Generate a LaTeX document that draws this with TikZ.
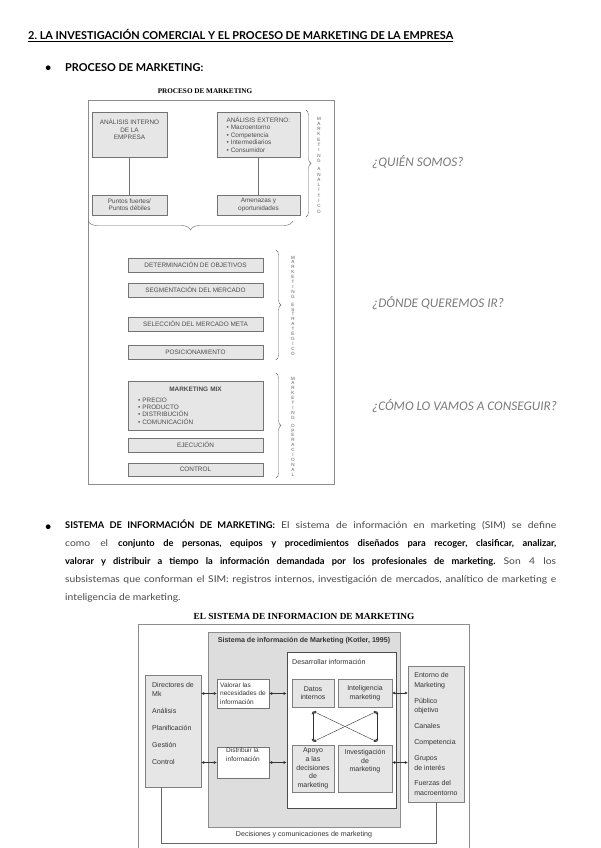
\documentclass[tikz,border=0pt]{standalone}
\usepackage{fontspec}
\setmainfont{Lato}
\newfontfamily\arialf{Liberation Sans}
\newfontfamily\timesf{Liberation Serif}
\newfontfamily\calibrif{Carlito}
\newfontfamily\parareg{Lato}[FakeStretch=1.11]
\newcommand{\parabold}[1]{\textcolor{black}{\normalfont\bfseries #1}}
\usetikzlibrary{arrows.meta,positioning,decorations.pathreplacing}
\definecolor{procgray}{HTML}{E6E6E6}
\definecolor{simgray}{HTML}{DDDDDD}
\definecolor{askgray}{HTML}{7A7A7A}
\frenchspacing

\begin{document}
\begin{tikzpicture}[x=1pt, y=-1pt,
  heading/.style={font=\bfseries\fontsize{10.9}{12}\selectfont, anchor=base west, inner sep=0pt},
  ask/.style={font=\calibrif\itshape\fontsize{13.2}{15}\selectfont, text=askgray, anchor=west, inner sep=0pt},
  procbox/.style={draw=black!55, fill=procgray, align=center, inner sep=1pt,
                  font=\arialf\fontsize{6.4}{7.4}\selectfont, text=black!70},
  stackbox/.style={procbox, minimum width=135pt, minimum height=14pt},
  vtext/.style={align=center, inner sep=0pt, font=\arialf\fontsize{4.6}{5.3}\selectfont, text=black!65},
  curly/.style={decorate, decoration={brace, amplitude=5pt}, draw=black!60, line width=0.4pt},
  simbox/.style={draw=black!50, fill=procgray, align=center, inner sep=1pt,
                 font=\arialf\fontsize{7}{8.6}\selectfont, text=black!80},
  sidebox/.style={simbox, align=left, minimum width=56pt, font=\arialf\fontsize{7}{9.8}\selectfont},
  whitebox/.style={simbox, fill=white, draw=black!55, align=left, minimum width=52pt,
                   font=\arialf\fontsize{6.5}{8.4}\selectfont},
  dbl/.style={{Latex[length=3pt,width=3pt]}-{Latex[length=3pt,width=3pt]}, black!80, line width=0.4pt}
]
\useasboundingbox (0,0) rectangle (600,848);

% --- heading
\node[heading] (h2) at (28,40) {\underline{2. LA INVESTIGACIÓN COMERCIAL Y EL PROCESO DE MARKETING DE LA EMPRESA}};
\node[heading] (b1) at (45,72) {\textbullet};
\node[heading] (proc) at (65,72) {PROCESO DE MARKETING:};

% --- proceso de marketing
\node[font=\timesf\bfseries\fontsize{7.2}{8}\selectfont, inner sep=0pt] (proctitle) at (205,91) {PROCESO DE MARKETING};
\draw[black!45, line width=0.5pt] (88,100) rectangle (334,484);

\node[procbox, minimum width=75pt, minimum height=45pt] (intern) at (129.5,134.5) {ANÁLISIS INTERNO\\DE LA\\EMPRESA\\[3pt]};
\node[procbox, minimum width=83pt, minimum height=45pt, align=left, text width=64pt] (extern) at (258.5,134.5)
  {ANÁLISIS EXTERNO:\\\textbullet\ Macroentorno\\\textbullet\ Competencia\\\textbullet\ Intermediarios\\\textbullet\ Consumidor};
\node[procbox, minimum width=75pt, minimum height=20pt] (fuertes) at (129.5,205) {Puntos fuertes/\\Puntos débiles};
\node[procbox, minimum width=83pt, minimum height=20pt] (amenazas) at (258.5,205) {Amenazas y\\oportunidades};
\draw[black!55] (intern) -- (fuertes);
\draw[black!55] (extern) -- (amenazas);

\draw[curly] (306,110) -- (306,217);
\node[vtext] (vanal) at (319,165) {M\\A\\R\\K\\E\\T\\I\\N\\G\\[3pt]A\\N\\A\\L\\Í\\T\\I\\C\\O};
\draw[curly, decoration={amplitude=9pt}] (293,221) -- (88,221);

\node[stackbox] (det) at (195.5,265) {DETERMINACIÓN DE OBJETIVOS};
\node[stackbox] (seg) at (195.5,290) {SEGMENTACIÓN DEL MERCADO};
\node[stackbox] (sel) at (195.5,324) {SELECCIÓN DEL MERCADO META};
\node[stackbox] (pos) at (195.5,352) {POSICIONAMIENTO};
\draw[curly] (276,250) -- (276,360);
\node[vtext, font=\arialf\fontsize{4.6}{4.9}\selectfont] (vestr) at (293,305.5)
  {M\\A\\R\\K\\E\\T\\I\\N\\G\\[3pt]E\\S\\T\\R\\A\\T\\É\\G\\I\\C\\O};

\node[stackbox, minimum height=49pt, align=left, text width=115pt] (mix) at (195.5,405.5)
  {\makebox[115pt]{\textbf{MARKETING MIX}}\\[3.5pt]\textbullet\ PRECIO\\\textbullet\ PRODUCTO\\\textbullet\ DISTRIBUCIÓN\\\textbullet\ COMUNICACIÓN\\[2pt]};
\node[stackbox] (ejec) at (195.5,445) {EJECUCIÓN};
\node[stackbox, minimum height=13pt] (ctrl) at (195.5,469.5) {CONTROL};
\draw[curly] (276,373) -- (276,478);
\node[vtext, font=\arialf\fontsize{4.6}{4.9}\selectfont] (voper) at (293,426.5)
  {M\\A\\R\\K\\E\\T\\I\\N\\G\\[3pt]O\\P\\E\\R\\A\\C\\I\\O\\N\\A\\L};

\node[ask] (quien) at (372,162) {¿QUIÉN SOMOS?};
\node[ask] (donde) at (372,303) {¿DÓNDE QUEREMOS IR?};
\node[ask] (como) at (372,406) {¿CÓMO LO VAMOS A CONSEGUIR?};

% --- sistema de informacion
\node[heading] (b2) at (45,530) {\textbullet};
\node[anchor=north west, inner sep=0pt, align=left, text=black!72,
      font=\parareg\fontsize{9.3}{18}\selectfont] (simtext) at (65,520)
  {\makebox[491pt][s]{\parabold{SISTEMA DE INFORMACIÓN DE MARKETING:} El sistema de información en marketing (SIM) se define}\\
   \makebox[491pt][s]{como el \parabold{conjunto de personas, equipos y procedimientos diseñados para recoger, clasificar, analizar,}}\\
   \makebox[491pt][s]{\parabold{valorar y distribuir a tiempo la información demandada por los profesionales de marketing.} Son 4 los}\\
   \makebox[491pt][s]{subsistemas que conforman el SIM: registros internos, investigación de mercados, analítico de marketing e}\\
   inteligencia de marketing.};

\node[font=\timesf\bfseries\fontsize{9.3}{10}\selectfont, inner sep=0pt] (simtitle) at (304,616) {EL SISTEMA DE INFORMACION DE MARKETING};
\draw[black!45, line width=0.5pt] (138,848) |- (469,624) -- (469,848);

\node[simbox, fill=simgray, draw=black!45, minimum width=192pt, minimum height=195pt] (sim) at (304,729.5) {};
\node[font=\arialf\bfseries\fontsize{7.1}{8}\selectfont, text=black!80, inner sep=0pt] (simhead) at (304,641)
  {Sistema de información de Marketing (Kotler, 1995)};
\node[simbox, fill=white, draw=black!70, line width=0.9pt, minimum width=109pt, minimum height=156pt] (dev) at (341.5,730) {};
\node[font=\arialf\fontsize{7.1}{8}\selectfont, text=black!80, anchor=west, inner sep=0pt] (devhead) at (292,662) {Desarrollar información};

\node[sidebox, minimum height=112pt] (dir) at (173,731)
  {Directores de\\Mk\\[7pt]Análisis\\[7pt]Planificación\\[7pt]Gestión\\[7pt]Control\\[6pt]};
\node[whitebox, minimum height=29pt] (valorar) at (243,693.5) {Valorar las\\necesidades de\\información};
\node[whitebox, minimum height=31pt] (distrib) at (243,762.5) {Distribuir la\\información\\[7pt]};
\node[simbox, minimum width=42pt, minimum height=28pt] (datos) at (313,693) {Datos\\internos};
\node[simbox, minimum width=54pt, minimum height=28pt] (intel) at (365,693) {Inteligencia\\marketing};
\node[simbox, minimum width=42pt, minimum height=47pt] (apoyo) at (313,768.5) {Apoyo\\a las\\decisiones\\de\\marketing};
\node[simbox, minimum width=54pt, minimum height=47pt] (invest) at (365,768.5) {Investigación\\de\\marketing\\[7pt]};
\node[sidebox, minimum height=136pt] (entorno) at (436,734)
  {Entorno de\\Marketing\\[6pt]Público\\objetivo\\[6pt]Canales\\[6pt]Competencia\\[6pt]Grupos\\de interés\\[6pt]Fuerzas del\\macroentorno};

\draw[dbl] (dir.east |- valorar.west) -- (valorar.west);
\draw[dbl] (valorar.east) -- (dev.west |- valorar.east);
\draw[dbl] (intel.east) -- (entorno.west |- intel.east);
\draw[dbl] (dir.east |- distrib.west) -- (distrib.west);
\draw[dbl] (distrib.east) -- (dev.west |- distrib.east);
\draw[dbl] (invest.east |- distrib.east) -- (entorno.west |- distrib.east);

\coordinate (xtl) at ([yshift=-4pt]datos.south);
\coordinate (xtr) at ([xshift=12pt, yshift=-4pt]intel.south);
\coordinate (xbl) at ([yshift=3pt]apoyo.north);
\coordinate (xbr) at ([xshift=12pt, yshift=3pt]invest.north);
\draw[dbl] (xtl) -- (xbl);
\draw[dbl] (xtr) -- (xbr);
\draw[dbl] (xtl) -- (xbr);
\draw[dbl] (xtr) -- (xbl);

\coordinate (loopy) at (0,843);
\draw[black!60] ([xshift=-12pt]dir.south) |- (loopy -| entorno.south) -- (entorno.south);
\node[font=\arialf\fontsize{7.1}{8}\selectfont, text=black!80, inner sep=0pt] (decis) at (304,835)
  {Decisiones y comunicaciones de marketing};
\end{tikzpicture}
\end{document}
